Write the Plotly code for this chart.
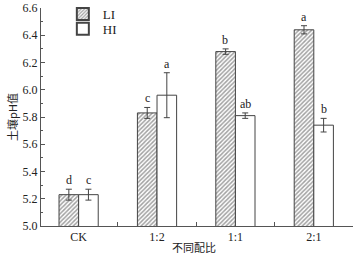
import plotly.graph_objects as go

categories = ["CK", "1:2", "1:1", "2:1"]
li_values = [5.23, 5.83, 6.28, 6.44]
li_errors = [0.04, 0.04, 0.02, 0.03]
hi_values = [5.23, 5.96, 5.81, 5.74]
hi_errors = [0.04, 0.165, 0.02, 0.05]
li_letters = ["d", "c", "b", "a"]
hi_letters = ["c", "a", "ab", "b"]

FONT = "Liberation Serif, Times New Roman, Noto Sans CJK SC, serif"
CJK = "Noto Sans CJK SC"
EDGE = "#444444"

fig = go.Figure()
fig.add_trace(go.Bar(
    name="LI", x=categories, y=li_values, legend="legend",
    marker=dict(color="white", line=dict(color=EDGE, width=1),
                pattern=dict(shape="/", fgcolor="#444444", bgcolor="white", size=3, solidity=0.5)),
    error_y=dict(type="data", array=li_errors, color=EDGE, thickness=1, width=3),
))
fig.add_trace(go.Bar(
    name="HI", x=categories, y=hi_values, legend="legend2",
    marker=dict(color="white", line=dict(color=EDGE, width=1)),
    error_y=dict(type="data", array=hi_errors, color=EDGE, thickness=1, width=3),
))

for i, c in enumerate(categories):
    fig.add_annotation(x=c, y=li_values[i] + li_errors[i], text=li_letters[i], showarrow=False,
                       xshift=-10, yanchor="bottom", yshift=0, font=dict(family=FONT, size=12, color="#222"))
    fig.add_annotation(x=c, y=hi_values[i] + hi_errors[i], text=hi_letters[i], showarrow=False,
                       xshift=10, yanchor="bottom", yshift=0, font=dict(family=FONT, size=12, color="#222"))

fig.add_annotation(xref="paper", yref="paper", x=0.49, y=0, yshift=-21, xanchor="center", yanchor="middle",
                   text="不同配比", showarrow=False, font=dict(family=CJK, size=11, color="#222"))

legend_style = dict(x=0.07, xanchor="left", yanchor="middle", bgcolor="rgba(0,0,0,0)",
                    font=dict(family=FONT, size=13), itemsizing="constant")

fig.update_layout(
    width=357, height=260,
    margin=dict(l=41, r=4, t=8, b=34, autoexpand=False),
    paper_bgcolor="white", plot_bgcolor="white",
    barmode="group", bargap=0.5, bargroupgap=0,
    font=dict(family=FONT, size=12, color="#222"),
    showlegend=True,
    legend=dict(y=0.972, **legend_style),
    legend2=dict(y=0.905, **legend_style),
    xaxis=dict(
        type="category", range=[-0.48, 3.5], showline=True, linecolor="#555", linewidth=1,
        ticks="inside", tickson="boundaries", ticklen=4, tickcolor="#555", showgrid=False,
        automargin=False,
    ),
    yaxis=dict(
        range=[5.0, 6.6], dtick=0.2, tickformat=".1f", showline=True, linecolor="#555", linewidth=1,
        ticks="inside", ticklen=4, tickcolor="#555", showgrid=False, zeroline=False,
        minor=dict(dtick=0.1, ticks="inside", ticklen=2, tickcolor="#555"),
        title=dict(text="土壤pH值", font=dict(family=CJK, size=11), standoff=2),
        automargin=False,
    ),
)

fig.write_html("out.html", config={"displayModeBar": False},
               post_script="document.body.style.margin='0';document.body.style.overflow='hidden';")
